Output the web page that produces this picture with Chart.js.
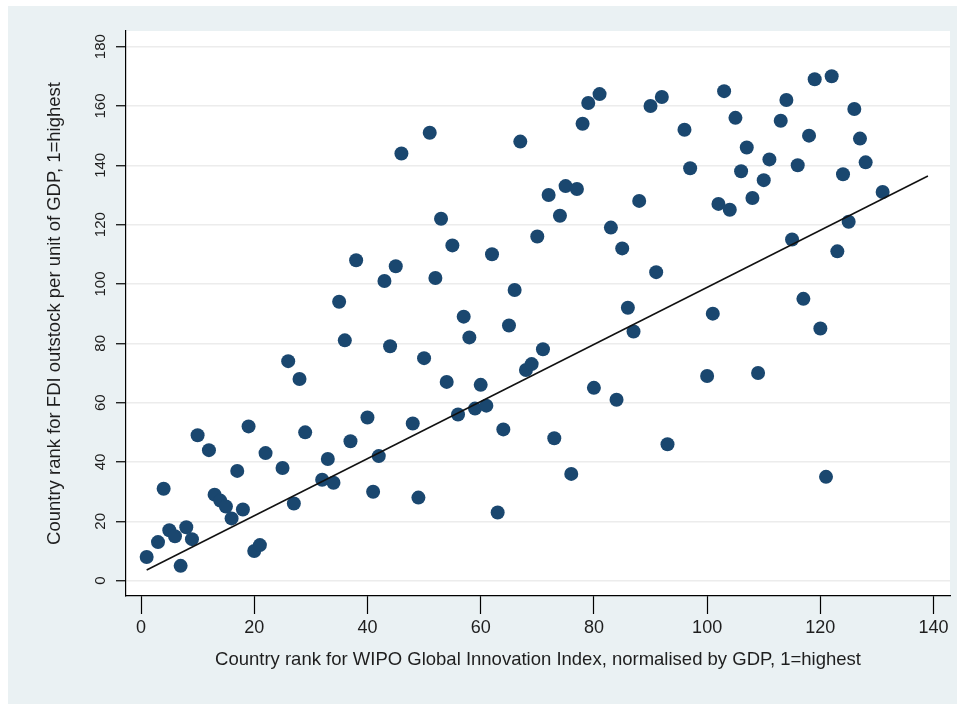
<!DOCTYPE html>
<html>
<head>
<meta charset="utf-8">
<script src="https://cdn.jsdelivr.net/npm/chart.js@4.4.1/dist/chart.umd.min.js"></script>
<style>
  html, body { margin: 0; padding: 0; background: #fff; }
  #wrap { width: 960px; height: 704px; }
</style>
</head>
<body>
<div id="wrap"><canvas id="chart" width="960" height="704"></canvas></div>
<script>
// WIPO innovation rank (x) vs FDI outstock rank (y), one entry per country
const gdpRank = [1, 3, 4, 5, 6, 7, 8, 9, 10, 12, 13, 14, 15, 16, 17, 18, 19, 20, 21, 22,
  25, 26, 27, 28, 29, 32, 33, 34, 35, 36, 37, 38, 40, 41, 42, 43, 44, 45, 46, 48,
  49, 50, 51, 52, 53, 54, 55, 56, 57, 58, 59, 60, 61, 62, 63, 64, 65, 66, 67, 68,
  69, 70, 71, 72, 73, 74, 75, 76, 77, 78, 79, 80, 81, 83, 84, 85, 86, 87, 88, 90,
  91, 92, 93, 96, 97, 100, 101, 102, 103, 104, 105, 106, 107, 108, 109, 110, 111, 113, 114, 115,
  116, 117, 118, 119, 120, 121, 122, 123, 124, 125, 126, 127, 128, 131];
const fdiRank = [8, 13, 31, 17, 15, 5, 18, 14, 49, 44, 29, 27, 25, 21, 37, 24, 52, 10, 12, 43,
  38, 74, 26, 68, 50, 34, 41, 33, 94, 81, 47, 108, 55, 30, 42, 101, 79, 106, 144, 53,
  28, 75, 151, 102, 122, 67, 113, 56, 89, 82, 58, 66, 59, 110, 23, 51, 86, 98, 148, 71,
  73, 116, 78, 130, 48, 123, 133, 36, 132, 154, 161, 65, 164, 119, 61, 112, 92, 84, 128, 160,
  104, 163, 46, 152, 139, 69, 90, 127, 165, 125, 156, 138, 146, 129, 70, 135, 142, 155, 162, 115,
  140, 95, 150, 169, 85, 35, 170, 111, 137, 121, 159, 149, 141, 131];

// fitted line end points
const fitX = [1, 139];
const fitY = [3.6, 136.4];

const xTicks = [0, 20, 40, 60, 80, 100, 120, 140];
const yTicks = [0, 20, 40, 60, 80, 100, 120, 140, 160, 180];

const xTitle = "Country rank for WIPO Global Innovation Index, normalised by GDP, 1=highest";
const yTitle = "Country rank for FDI outstock per unit of GDP, 1=highest";

const FONT = "'Liberation Sans', Arial, Helvetica, sans-serif";
const TEXT = "#1e1e1e";

const backdrop = {
  id: "backdrop",
  beforeDraw(chart) {
    const { ctx, chartArea: a } = chart;
    ctx.save();
    ctx.fillStyle = "#ffffff";
    ctx.fillRect(0, 0, chart.width, chart.height);
    ctx.fillStyle = "#eaf1f3";
    ctx.fillRect(8, 6, 949, 698);
    ctx.fillStyle = "#ffffff";
    ctx.fillRect(a.left, a.top, a.right - a.left, a.bottom - a.top);
    ctx.restore();
  }
};

// stata style y labels, turned to read bottom to top
const yLabels = {
  id: "yLabels",
  afterDraw(chart) {
    const { ctx } = chart;
    const sc = chart.scales.y;
    ctx.save();
    ctx.fillStyle = TEXT;
    ctx.font = "15px " + FONT;
    ctx.textAlign = "center";
    ctx.textBaseline = "middle";
    yTicks.forEach(v => {
      ctx.save();
      ctx.translate(101, sc.getPixelForValue(v));
      ctx.rotate(-Math.PI / 2);
      ctx.fillText(String(v), 0, 0);
      ctx.restore();
    });
    ctx.restore();
  }
};

new Chart(document.getElementById("chart"), {
  type: "scatter",
  data: {
    datasets: [
      {
        type: "line",
        data: fitX.map((x, i) => ({ x: x, y: fitY[i] })),
        borderColor: "#111111",
        borderWidth: 1.5,
        pointRadius: 0,
        fill: false,
        order: 0
      },
      {
        data: gdpRank.map((x, i) => ({ x: x, y: fdiRank[i] })),
        backgroundColor: "#1a476f",
        borderColor: "#1a476f",
        borderWidth: 0,
        pointRadius: 7,
        order: 1
      }
    ]
  },
  options: {
    responsive: false,
    animation: false,
    events: [],
    layout: { padding: { left: 0, right: 10, top: 31, bottom: 0 } },
    plugins: {
      legend: { display: false },
      tooltip: { enabled: false }
    },
    scales: {
      x: {
        type: "linear",
        min: -2.65,
        max: 142.9,
        afterBuildTicks: s => { s.ticks = xTicks.map(v => ({ value: v })); },
        afterFit: s => { s.height = 108; },
        grid: { drawOnChartArea: false, tickLength: 18, tickColor: "#000", tickWidth: 1.2 },
        border: { color: "#000", width: 1.2 },
        ticks: { font: { family: FONT, size: 18 }, color: TEXT, padding: 3, maxRotation: 0, autoSkip: false },
        title: { display: true, text: xTitle, color: TEXT, font: { family: FONT, size: 18.5 }, padding: { top: 0, bottom: 33 } }
      },
      y: {
        type: "linear",
        min: -5.16,
        max: 185.27,
        afterBuildTicks: s => { s.ticks = yTicks.map(v => ({ value: v })); },
        afterFit: s => { s.width = 126; },
        grid: { color: "#ececec", lineWidth: 1.5, tickLength: 10, tickColor: "#000", tickWidth: 1.2 },
        border: { color: "#000", width: 1.2 },
        ticks: { display: false },
        title: { display: true, text: yTitle, color: TEXT, font: { family: FONT, size: 18.5 }, padding: { top: 44, bottom: 0 } }
      }
    }
  },
  plugins: [backdrop, yLabels]
});
</script>
</body>
</html>
